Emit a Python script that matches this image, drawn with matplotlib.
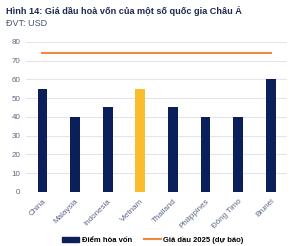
import numpy as np
import matplotlib.pyplot as plt
from matplotlib.patches import Patch
from matplotlib.lines import Line2D

# Dữ liệu
quoc_gia = ["China", "Malaysia", "Indonesia", "Vietnam", "Thailand", "Philippines", "Đông Timo", "Brunei"]
diem_hoa_von = [55, 40, 45, 55, 45, 40, 40, 60]
gia_dau_2025 = [74, 74, 74, 74, 74, 74, 74, 74]
y_ticks = [0, 10, 20, 30, 40, 50, 60, 70, 80]

navy = "#0b1f5b"
vang = "#fbbd2e"
cam = "#f0883e"
xam = "#5b6785"

plt.rcParams['font.family'] = ['Liberation Sans', 'DejaVu Sans']

fig = plt.figure(figsize=(3.0, 2.46), dpi=100)
ax = fig.add_axes([0.087, 0.22, 0.87, 0.61])

x = np.arange(len(quoc_gia))
mau = [vang if q == "Vietnam" else navy for q in quoc_gia]
ax.bar(x, diem_hoa_von, width=0.3, color=mau, zorder=3)
ax.plot(x, gia_dau_2025, color=cam, linewidth=1.5, zorder=3)

ax.set_xlim(-0.5, len(quoc_gia) - 0.5)
ax.set_ylim(0, 80)
ax.set_yticks(y_ticks)
ax.set_xticks(x)
ax.set_xticklabels(quoc_gia, rotation=45, ha="right", rotation_mode="anchor")
ax.tick_params(axis="both", length=0, labelsize=5.8, colors=xam, pad=4)
ax.grid(axis="y", color="#e3e5ea", linewidth=0.8, zorder=0)
for s in ax.spines.values():
    s.set_visible(False)

fig.text(0.02, 0.955, "Hình 14: Giá dầu hoà vốn của một số quốc gia Châu Á",
         fontsize=6.6, fontweight="bold", color="#1a2a50", va="center")
fig.text(0.02, 0.905, "ĐVT: USD", fontsize=6.5, color="#4a5570", va="center")

# Chú thích
handles = [Patch(color=navy), Line2D([0], [0], color=cam, linewidth=1.5)]
fig.legend(handles, ["Điểm hòa vốn", "Giá dầu 2025 (dự báo)"], loc="center",
           bbox_to_anchor=(0.51, 0.025), ncol=2, frameon=False,
           handlelength=2.2, handleheight=0.6, columnspacing=1.6, handletextpad=0.3,
           prop={"weight": "bold", "size": 5.5})

fig.savefig("out.png", dpi=100)
